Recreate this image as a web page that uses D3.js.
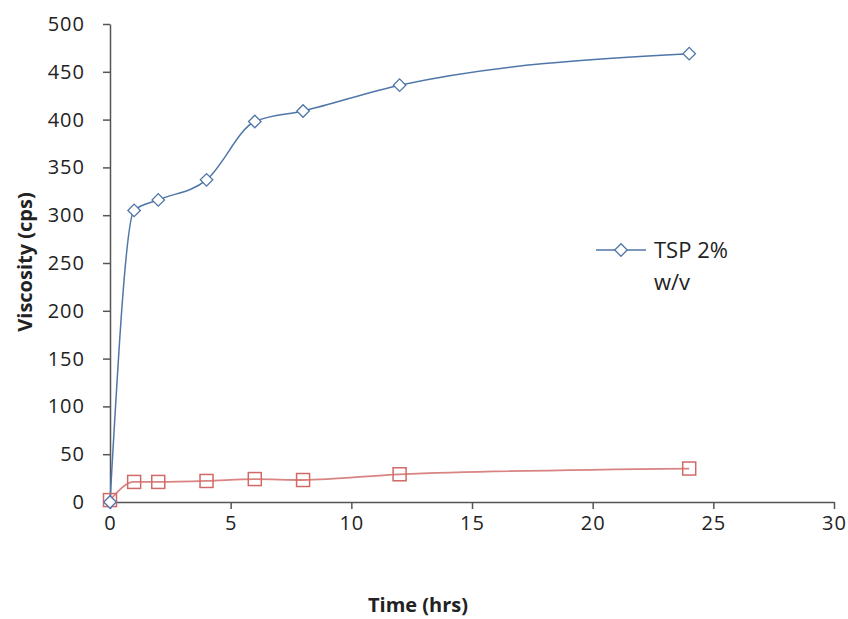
<!DOCTYPE html>
<html>
<head>
<meta charset="utf-8">
<script src="https://cdn.jsdelivr.net/npm/d3@7"></script>
<style>
  body { margin: 0; background: #fff; }
  text { font-family: "Open Sans", "DejaVu Sans", sans-serif; fill: #222; }
</style>
</head>
<body>
<div id="viz"></div>
<script>
const times = [0, 1, 2, 4, 6, 8, 12, 24];
const tsp = [0, 305, 316, 337, 398, 409, 436, 469];
const other = [2, 21, 21, 22, 24, 23, 29, 35];
const xTicks = [0, 5, 10, 15, 20, 25, 30];
const yTicks = [0, 50, 100, 150, 200, 250, 300, 350, 400, 450, 500];

const plotLeft = 110;
const plotRight = 834;
const plotTop = 24;
const plotBottom = 502;

const svg = d3.select('#viz')
      .append('svg')
      .attr('width', 848)
      .attr('height', 619);

const x = d3.scaleLinear().domain([0, 30]).range([plotLeft, plotRight]);
const y = d3.scaleLinear().domain([0, 500]).range([plotBottom, plotTop]);

// axes
const xAxis = svg.append('g')
      .attr('transform', `translate(0 ${plotBottom})`)
      .call(d3.axisBottom(x).tickValues(xTicks).tickSize(7).tickPadding(7).tickSizeOuter(0));
const yAxis = svg.append('g')
      .attr('transform', `translate(${plotLeft} 0)`)
      .call(d3.axisLeft(y).tickValues(yTicks).tickSize(7).tickPadding(18).tickSizeOuter(0));

[xAxis, yAxis].forEach(a => {
  a.select('.domain').attr('stroke', '#555').attr('stroke-width', 1.5);
  a.selectAll('.tick line').attr('stroke', '#555').attr('stroke-width', 1.5);
  a.selectAll('.tick text').attr('font-size', 20).attr('fill', '#222')
    .attr('letter-spacing', 1)
    .attr('font-family', '"Open Sans", sans-serif');
});

// lines (smoothed like the spreadsheet original)
const line = (vals) => d3.line()
      .x((d, i) => x(times[i]))
      .y(d => y(d))
      .curve(d3.curveMonotoneX)(vals);

svg.append('path')
    .attr('d', line(other))
    .attr('fill', 'none')
    .attr('stroke', '#d98482')
    .attr('stroke-width', 1.8);

svg.append('path')
    .attr('d', line(tsp))
    .attr('fill', 'none')
    .attr('stroke', '#4f76a8')
    .attr('stroke-width', 1.5);

// markers
svg.append('g').selectAll('rect')
    .data(other)
    .join('rect')
    .attr('x', (d, i) => x(times[i]) - 6.5)
    .attr('y', d => y(d) - 6.5)
    .attr('width', 13)
    .attr('height', 13)
    .attr('fill', 'none')
    .attr('stroke', '#cf6a67')
    .attr('stroke-width', 1.5);

const diamond = d3.symbol().type(d3.symbolSquare).size(78);
svg.append('g').selectAll('path')
    .data(tsp)
    .join('path')
    .attr('d', diamond)
    .attr('transform', (d, i) => `translate(${x(times[i])} ${y(d)}) rotate(45)`)
    .attr('fill', '#fff')
    .attr('stroke', '#4f76a8')
    .attr('stroke-width', 1.3);

// legend
const legend = svg.append('g').attr('transform', 'translate(596 250)');
legend.append('line')
    .attr('x1', 0).attr('x2', 50).attr('y1', 0).attr('y2', 0)
    .attr('stroke', '#4f76a8').attr('stroke-width', 1.5);
legend.append('path')
    .attr('d', diamond)
    .attr('transform', 'translate(25 0) rotate(45)')
    .attr('fill', '#fff')
    .attr('stroke', '#4f76a8')
    .attr('stroke-width', 1.3);
legend.append('text')
    .attr('x', 58).attr('y', 8)
    .attr('font-size', 22)
    .text('TSP 2%');
legend.append('text')
    .attr('x', 58).attr('y', 40)
    .attr('font-size', 22)
    .text('w/v');

// axis titles
svg.append('text')
    .attr('x', 418).attr('y', 612)
    .attr('text-anchor', 'middle')
    .attr('font-size', 20)
    .attr('font-weight', 'bold')
    .text('Time (hrs)');

svg.append('text')
    .attr('transform', 'translate(32 262) rotate(-90)')
    .attr('text-anchor', 'middle')
    .attr('font-size', 20)
    .attr('font-weight', 'bold')
    .text('Viscosity (cps)');
</script>
</body>
</html>
